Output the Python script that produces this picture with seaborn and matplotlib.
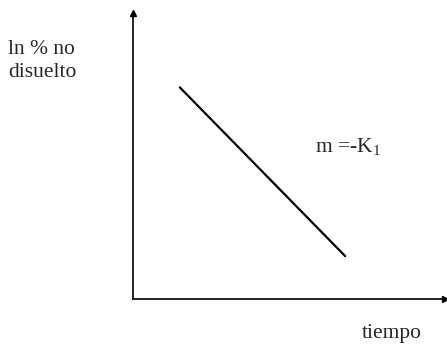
import numpy as np
import pandas as pd
import matplotlib
matplotlib.use("Agg")
import matplotlib.pyplot as plt
import seaborn as sns

# schematic first-order dissolution plot: ln(% not dissolved) vs time
tiempo = [1.5, 6.8]
ln_no_disuelto = [7.4, 1.5]

df = pd.DataFrame({"tiempo": tiempo, "ln": ln_no_disuelto})

sns.set_theme(style="white")
plt.rcParams["font.family"] = ["Liberation Serif", "DejaVu Serif"]
plt.rcParams["mathtext.fontset"] = "custom"
plt.rcParams["mathtext.rm"] = "Liberation Serif"

fig = plt.figure(figsize=(4.47, 3.45), dpi=100)
ax = fig.add_axes([133 / 447, 46 / 345, 312 / 447, 286 / 345])

sns.lineplot(data=df, x="tiempo", y="ln", color="black", linewidth=1.6, ax=ax)

ax.set_xlim(0, 10)
ax.set_ylim(0, 10)
ax.set_xticks([])
ax.set_yticks([])
ax.set_xlabel("")
ax.set_ylabel("")
sns.despine(ax=ax)
for s in ["left", "bottom"]:
    ax.spines[s].set_color("black")
    ax.spines[s].set_linewidth(1.2)

# arrow heads on axes
ax.plot(1, 0, ">", color="black", markersize=5, transform=ax.transAxes, clip_on=False)
ax.plot(0, 1, "^", color="black", markersize=5, transform=ax.transAxes, clip_on=False)

fs = 15.5
fig.text(8 / 447, 1 - 77 / 345, "ln % no\ndisuelto", fontsize=fs, ha="left",
         va="baseline", linespacing=1.3)
fig.text(315 / 447, 1 - 152 / 345, r"m =-K$_\mathregular{1}$", fontsize=fs,
         ha="left", va="baseline")
fig.text(362 / 447, 1 - 338 / 345, "tiempo", fontsize=fs, ha="left", va="baseline")

fig.savefig("out.png", dpi=100)
